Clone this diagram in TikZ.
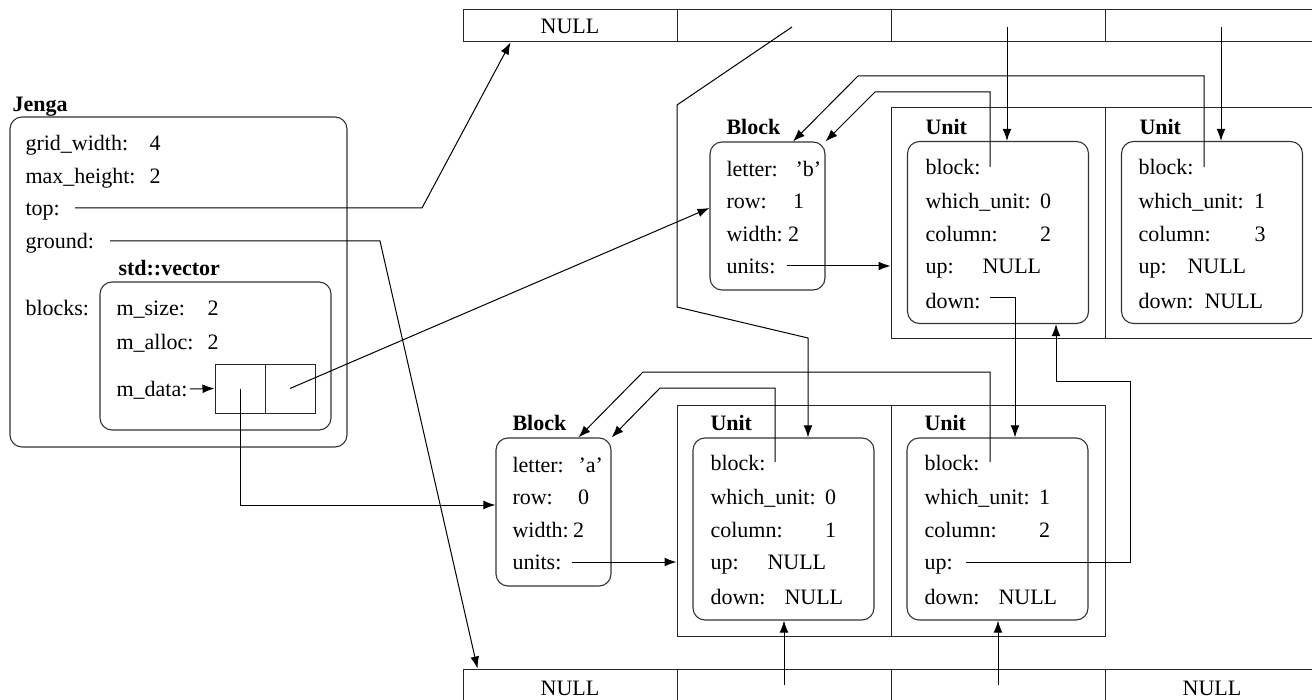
\documentclass[tikz,border=0pt]{standalone}
\usepackage{fontspec}
\setmainfont{Liberation Serif}
\usetikzlibrary{calc,arrows.meta}

\tikzset{
  record/.style={draw=black!80,line width=0.55pt,rounded corners=6pt,inner sep=0pt},
  slot/.style={draw=black!85,line width=0.5pt,inner sep=0pt},
  cell/.style={slot,minimum width=107pt,minimum height=16pt},
  unitbox/.style={record,minimum width=90.5pt,minimum height=91pt},
  blockbox/.style={record,minimum width=57.5pt,minimum height=74pt},
  field/.style={anchor=west,inner sep=0pt,text height=7.5pt,text depth=0pt},
  title/.style={field,font=\fontsize{11}{13}\selectfont\bfseries},
  >={Latex[length=6pt,width=4.4pt]},
}

\begin{document}
\begin{tikzpicture}[x=0.5pt,y=-0.5pt,->,line width=0.5pt,font=\fontsize{11}{13}\selectfont]
\useasboundingbox (0,0) rectangle (1312,700);

%%%%%%%%%%%%%%%%%%%%%% GRID ROWS

\node[cell] (top0) at (570,26) {NULL};
\node[cell] (top1) at (784,26) {};
\node[cell] (top2) at (998,26) {};
\node[cell] (top3) at (1212,26) {};
\node[cell,minimum height=19pt] (bot0) at (570,688) {NULL};
\node[cell,minimum height=19pt] (bot1) at (784,688) {};
\node[cell,minimum height=19pt] (bot2) at (998,688) {};
\node[cell,minimum height=19pt] (bot3) at (1212,688) {NULL};
\coordinate (top1-p) at (792,27);
\coordinate (top2-p) at (1007,27);
\coordinate (top3-p) at (1221,27);
\coordinate (bot1-p) at (784,685);
\coordinate (bot2-p) at (998,685);

%%%%%%%%%%%%%%%%%%%%%% JENGA

\node[record,minimum width=168.5pt,minimum height=165pt] (jenga) at (178.5,282) {};
\node[title] (jenga-t) at (12,104) {Jenga};
\node[field] (jgw) at (25,143) {grid\_width:};
\node[field] (jgw-v) at (149,143) {4};
\node[field] (jmh) at (25,176) {max\_height:};
\node[field] (jmh-v) at (149,176) {2};
\node[field] (jtop) at (25,208) {top:};
\node[field] (jgr) at (25,241) {ground:};
\node[field] (jbl) at (25,308) {blocks:};
\coordinate (jtop-p) at (75,208);
\coordinate (jgr-p) at (110,241);

\node[record,minimum width=115.5pt,minimum height=74pt] (vec) at (215.5,356) {};
\node[title] (vec-t) at (118,268) {std::vector};
\node[field] (vsz) at (116,308) {m\_size:};
\node[field] (vsz-v) at (207,308) {2};
\node[field] (val) at (116,342) {m\_alloc:};
\node[field] (val-v) at (207,342) {2};
\node[field] (vdat) at (116,389) {m\_data:};
\node[slot,minimum width=25pt,minimum height=24.5pt] (vd0) at (240,388.5) {};
\node[slot,minimum width=25pt,minimum height=24.5pt] (vd1) at (290,388.5) {};
\coordinate (vdat-p) at (190,389);

%%%%%%%%%%%%%%%%%%%%%% BLOCKS

\node[blockbox] (ba) at (553.5,512) {};
\node[title] (ba-t) at (512,423) {Block};
\node[field] (ba-l) at (512,465) {letter:};
\node[field] at (578,465) {'a'};
\node[field] (ba-r) at (512,497) {row:};
\node[field] at (577.5,497) {0};
\node[field] (ba-w) at (512,530) {width:};
\node[field] at (572.5,530) {2};
\node[field] (ba-us) at (512,562) {units:};
\coordinate (ba-u) at (572,562);

\node[blockbox] (bb) at (767.5,216) {};
\node[title] (bb-t) at (726,127) {Block};
\node[field] (bb-l) at (726,169) {letter:};
\node[field] at (795,169) {'b'};
\node[field] (bb-r) at (726,201) {row:};
\node[field] at (792.5,201) {1};
\node[field] (bb-w) at (726,234) {width:};
\node[field] at (787.5,234) {2};
\node[field] (bb-us) at (726,266) {units:};
\coordinate (bb-u) at (787,266);

%%%%%%%%%%%%%%%%%%%%%% UNITS

\node[slot,minimum width=107pt,minimum height=115.5pt] (bc0) at (784,520.5) {};
\node[slot,minimum width=107pt,minimum height=115.5pt] (bc1) at (998,520.5) {};
\node[slot,minimum width=107pt,minimum height=115.5pt] (tc0) at (998,223.5) {};
\node[slot,minimum width=107pt,minimum height=115.5pt] (tc1) at (1212,223.5) {};

\node[unitbox] (ua0) at (783.5,529) {};
\node[title] at (710,423) {Unit};
\node[field] at (710,463) {block:};
\node[field] at (710,497) {which\_unit:};
\node[field] at (824.5,497) {0};
\node[field] at (710,530) {column:};
\node[field] at (824.5,530) {1};
\node[field] at (710,562) {up:};
\node[field] at (767,562) {NULL};
\node[field] at (710,597) {down:};
\node[field] at (784,597) {NULL};
\coordinate (ua0-b) at (775,462);

\node[unitbox] (ua1) at (997.5,529) {};
\node[title] at (924,423) {Unit};
\node[field] at (924,463) {block:};
\node[field] at (924,497) {which\_unit:};
\node[field] at (1038.5,497) {1};
\node[field] at (924,530) {column:};
\node[field] at (1038.5,530) {2};
\node[field] at (924,562) {up:};
\node[field] at (924,597) {down:};
\node[field] at (998,597) {NULL};
\coordinate (ua1-b) at (990,462);
\coordinate (ua1-u) at (966,562);

\node[unitbox] (ub0) at (998,232.5) {};
\node[title] at (925,127) {Unit};
\node[field] at (925,167) {block:};
\node[field] at (925,201) {which\_unit:};
\node[field] at (1039.5,201) {0};
\node[field] at (925,234) {column:};
\node[field] at (1039.5,234) {2};
\node[field] at (925,266) {up:};
\node[field] at (982,266) {NULL};
\node[field] at (925,301) {down:};
\coordinate (ub0-b) at (990,167);
\coordinate (ub0-d) at (990,298);

\node[unitbox] (ub1) at (1212,232.5) {};
\node[title] at (1139,127) {Unit};
\node[field] at (1138,167) {block:};
\node[field] at (1138,201) {which\_unit:};
\node[field] at (1253.5,201) {1};
\node[field] at (1138,234) {column:};
\node[field] at (1254,234) {3};
\node[field] at (1138,266) {up:};
\node[field] at (1187,266) {NULL};
\node[field] at (1138,301) {down:};
\node[field] at (1204,301) {NULL};
\coordinate (ub1-b) at (1204,167);

%%%%%%%%%%%%%%%%%%%%%% POINTERS

\draw (jtop-p) -- (422,208) -- ($(top0.south west)+(48,0)$);
\draw (jgr-p) -- (380,241) -- ($(bot0.north west)+(15,0)$);
\draw (vdat-p) -- (vd0.west);
\draw (vd0.center) |- ($(ba.west)+(0,-7)$);
\draw (vd1.center) -- ($(bb.west)+(0,-8)$);
\draw (ba-u) -- (bc0.west |- ba-u);
\draw (bb-u) -- (tc0.west |- bb-u);

\draw (top1-p) -- (677,105) -- (677,307) -- (808,338) -- ($(ua0.north)+(24.5,0)$);
\draw (top2-p) -- (ub0.north -| top2-p);
\draw (top3-p) -- (ub1.north -| top3-p);
\draw (bot1-p) -- (ua0.south -| bot1-p);
\draw (bot2-p) -- (ua1.south -| bot2-p);

\draw (ub0-b) |- (875,92) -- (bb.north east);
\draw (ub1-b) |- (858,76) -- ($(bb.north)+(25.5,0)$);
\draw (ua0-b) |- (660,388) -- (ba.north east);
\draw (ua1-b) |- (643,372) -- ($(ba.north)+(25,0)$);

\draw (ub0-d) -| ($(ua1.north)+(17.5,0)$);
\draw (ua1-u) -| (1130,381) -| ($(ub0.south)+(58,0)$);

\end{tikzpicture}
\end{document}
